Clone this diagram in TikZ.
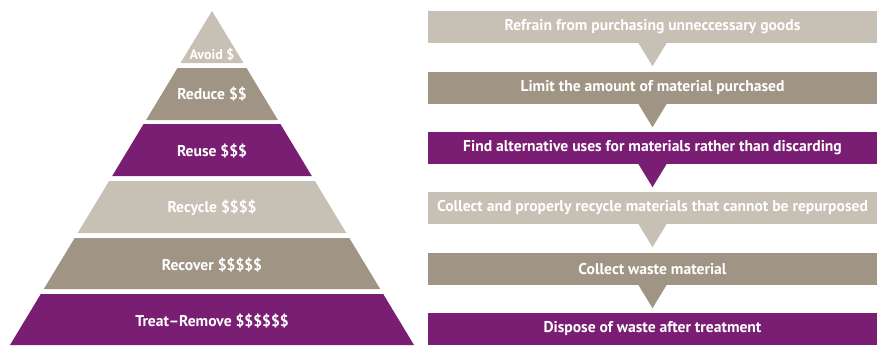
\documentclass[tikz,border=0pt]{standalone}
\usepackage{fontspec}
\setmainfont{PT Sans}
\definecolor{stone}{HTML}{C7C0B5}
\definecolor{taupe}{HTML}{A09584}
\definecolor{plum}{HTML}{7A1E73}
\begin{document}
\begin{tikzpicture}[x=1pt,y=-1pt,
		lbl/.style={text=white,font=\bfseries\fontsize{15.6}{18}\selectfont,inner sep=0pt},
		stepbox/.style={minimum width=449pt,minimum height=32pt,inner sep=0pt,text=white,font=\bfseries\fontsize{15.6}{18}\selectfont}]
			\useasboundingbox (0,0) rectangle (877,345);
			% pyramid
			\fill[stone] (212,11) -- (243.5,63) -- (180.5,63) -- cycle;
			\fill[taupe] (177.5,68) -- (246.5,68) -- (277.9,120) -- (146.1,120) -- cycle;
			\fill[plum] (143.6,124) -- (280.4,124) -- (311.8,176) -- (112.2,176) -- cycle;
			\fill[stone] (109.1,181) -- (314.9,181) -- (346.3,233) -- (77.7,233) -- cycle;
			\fill[taupe] (74.7,238) -- (349.3,238) -- (380.2,289) -- (43.8,289) -- cycle;
			\fill[plum] (40.8,294) -- (383.2,294) -- (414,345) -- (10,345) -- cycle;
			\node[lbl,font=\bfseries\fontsize{14}{16}\selectfont] (avoid) at (212,55) {Avoid \$};
			\node[lbl] (reduce) at (212,94) {Reduce \$\$};
			\node[lbl] (reuse) at (212,151) {Reuse \$\$\$};
			\node[lbl] (recycle) at (212,208) {Recycle \$\$\$\$};
			\node[lbl] (recover) at (212,265) {Recover \$\$\$\$\$};
			\node[lbl] (treat) at (212,321) {Treat–Remove \$\$\$\$\$\$};
			% steps
			\node[stepbox,fill=stone] (s1) at (652.5,27) {Refrain from purchasing unneccessary goods};
			\node[stepbox,fill=taupe] (s2) at (652.5,88) {Limit the amount of material purchased};
			\node[stepbox,fill=plum] (s3) at (652.5,148) {Find alternative uses for materials rather than discarding};
			\node[stepbox,fill=stone] (s4) at (652.5,208) {Collect and properly recycle materials that cannot be repurposed};
			\node[stepbox,fill=taupe] (s5) at (652.5,269) {Collect waste material};
			\node[stepbox,fill=plum] (s6) at (652.5,329) {Dispose of waste after treatment};
			\fill[stone] ([xshift=-14pt]s1.south) -- ([xshift=14pt]s1.south) -- ([yshift=-23pt]s1.south) -- cycle;
			\fill[taupe] ([xshift=-14pt]s2.south) -- ([xshift=14pt]s2.south) -- ([yshift=-23pt]s2.south) -- cycle;
			\fill[plum] ([xshift=-14pt]s3.south) -- ([xshift=14pt]s3.south) -- ([yshift=-23pt]s3.south) -- cycle;
			\fill[stone] ([xshift=-14pt]s4.south) -- ([xshift=14pt]s4.south) -- ([yshift=-23pt]s4.south) -- cycle;
			\fill[taupe] ([xshift=-14pt]s5.south) -- ([xshift=14pt]s5.south) -- ([yshift=-23pt]s5.south) -- cycle;
		\end{tikzpicture}
\end{document}
